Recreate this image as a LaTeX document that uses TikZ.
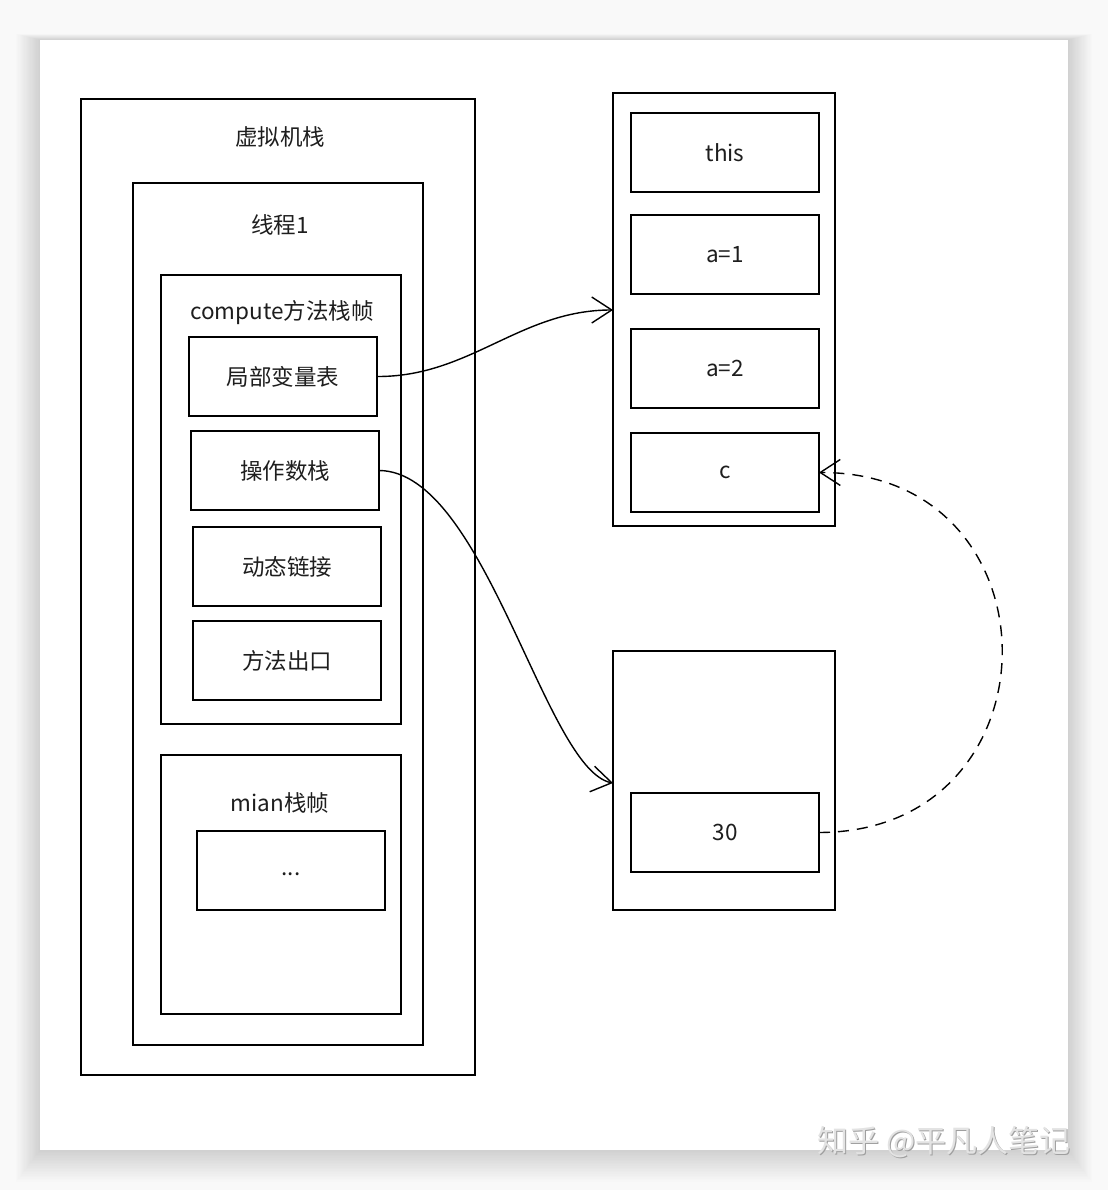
\documentclass[tikz,border=0pt]{standalone}
\usepackage{fontspec}
\setmainfont{Noto Sans CJK SC}
\usetikzlibrary{arrows.meta}
\definecolor{txt}{HTML}{1E1E1E}
\definecolor{bgc}{HTML}{F9F9F9}
\tikzset{
  box/.style={draw=black, line width=2pt, inner sep=0pt, outer sep=0pt, fill=white},
  cell/.style={box, minimum width=188pt, minimum height=79pt, font=\fontsize{22.5pt}{25pt}\selectfont, text=txt},
  lbl/.style={font=\fontsize{22.5pt}{25pt}\selectfont, text=txt, inner sep=0pt},
  link/.style={line width=1.4pt, -{Straight Barb[length=20pt,width=26pt,line width=1.4pt]}},
  dlink/.style={link, dash pattern=on 11pt off 8pt},
}
\begin{document}
\begin{tikzpicture}[x=1pt,y=-1pt]
\useasboundingbox (0,0) rectangle (1108,1190);
\fill[bgc] (0,0) rectangle (1108,1190);
% card shadow
\foreach \i in {1,...,20} {
  \fill[black,opacity=0.006] (40-\i*1.2,40-\i*0.3) rectangle (1068+\i*1.2,1150+\i*1.6);
}
\fill[white] (40,40) rectangle (1068,1150);

% left stack
\node[box, minimum width=394pt, minimum height=976pt] (jvm) at (278,587) {};
\node[lbl] (jvml) at (280,137) {虚拟机栈};
\node[box, minimum width=290pt, minimum height=862pt] (thr) at (278,614) {};
\node[lbl] (thrl) at (280,225) {线程1};
\node[box, minimum width=240pt, minimum height=449pt] (comp) at (281,499.5) {};
\node[lbl] (compl) at (282,313) {compute方法栈帧};
\node[cell] (lvt) at (283,376.5) {局部变量表};
\node[cell] (ops) at (285,470.5) {操作数栈};
\node[cell] (dyn) at (287,566.5) {动态链接};
\node[cell] (ret) at (287,660.5) {方法出口};
\node[box, minimum width=240pt, minimum height=259pt] (mainf) at (281,884.5) {};
\node[lbl] (mainl) at (280,803) {mian栈帧};
\node[cell] (dots) at (291,870.5) {\raisebox{-5pt}[0pt][0pt]{...}};

% right top
\node[box, minimum width=222pt, minimum height=433pt] (heap1) at (724,309.5) {};
\node[cell] (this) at (725,152.5) {this};
\node[cell] (a1) at (725,254.5) {a=1};
\node[cell] (a2) at (725,368.5) {a=2};
\node[cell] (c) at (725,472.5) {c};

% right bottom
\node[box, minimum width=222pt, minimum height=259pt] (heap2) at (724,780.5) {};
\node[cell] (n30) at (725,832.5) {30};

% connectors
\coordinate (t1) at (613,310);
\coordinate (t2) at (613,783);
\draw[link] (lvt.east) .. controls (470,377) and (520,310) .. (t1);
\draw[link] (ops.east) .. controls (485,471) and (545,770) .. (t2);
\draw[dlink] (n30.east) .. controls (1063,832) and (1063,472) .. (c.east);

% watermark
\node[font=\fontsize{31pt}{34pt}\selectfont, text=gray!75, inner sep=0pt] (wms) at (945.2,1143.2) {知乎 @平凡人笔记};
\node[font=\fontsize{31pt}{34pt}\selectfont, text=gray!22, inner sep=0pt] (wm) at (944,1142) {知乎 @平凡人笔记};
\end{tikzpicture}
\end{document}
